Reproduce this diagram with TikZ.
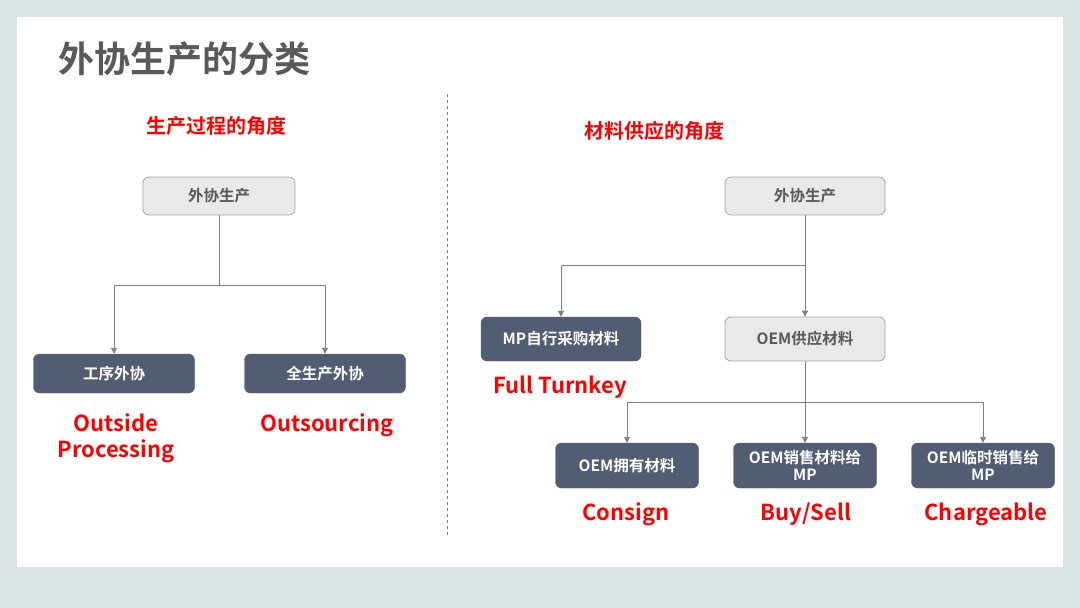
\documentclass[tikz,border=0pt]{standalone}
\usepackage{fontspec}
\setmainfont{Noto Sans CJK SC}[BoldFont={Noto Sans CJK SC Bold}]
\usepackage{xcolor}
\usetikzlibrary{positioning, arrows.meta}

\definecolor{slate}{HTML}{525C72}
\definecolor{paper}{HTML}{DCE3E5}
\definecolor{softfill}{HTML}{E9E9E9}
\definecolor{softline}{HTML}{A6A6A6}
\definecolor{inkgray}{HTML}{595959}
\definecolor{linkgray}{HTML}{7F7F7F}

\begin{document}
\begin{tikzpicture}[
  x=1pt, y=-1pt,
  font=\bfseries,
  softbox/.style={draw=softline, fill=softfill, rounded corners=6pt, line width=0.8pt,
                  minimum width=160pt, minimum height=38pt, inner sep=2pt,
                  text=inkgray, font=\fontsize{15.5}{17}\selectfont\bfseries},
  darkbox/.style={draw=slate, fill=slate, rounded corners=6pt,
                  minimum width=161pt, minimum height=39pt, inner sep=2pt, align=center,
                  text=white, font=\fontsize{15.5}{17}\selectfont\bfseries},
  heading/.style={text=red, font=\fontsize{20}{24}\selectfont\bfseries},
  tag/.style={text=red, align=center, font=\fontsize{22}{26}\selectfont\bfseries},
  link/.style={draw=linkgray, line width=0.9pt, -{Triangle[length=6pt, width=6pt]}},
]
\useasboundingbox (0,0) rectangle (1080,608);
\fill[paper] (0,0) rectangle (1080,608);
\fill[white] (17,17) rectangle (1063,567);

\node[anchor=west, text=inkgray, font=\fontsize{36}{40}\selectfont\bfseries] (title) at (55,59) {外协生产的分类};
\draw[dashed, linkgray, line width=0.8pt] (447,94) -- (447,535);

% production process view
\node[heading] (hL) at (216,126) {生产过程的角度};
\node[softbox, minimum width=152pt] (L0) at (219,196) {外协生产};
\node[darkbox] (L1) at (114,373.5) {工序外协};
\node[darkbox] (L2) at (325,373.5) {全生产外协};
\coordinate (Lj) at (219,285);
\draw[link, -] (L0.south) -- (Lj);
\draw[link] (Lj) -| (L1.north);
\draw[link] (Lj) -| (L2.north);
\node[tag] (tL1) at (116,438) {Outside\\Processing};
\node[tag] (tL2) at (327,425) {Outsourcing};

% material supply view
\node[heading] (hR) at (654,131) {材料供应的角度};
\node[softbox] (R0) at (805,196) {外协生产};
\node[darkbox, minimum width=160pt, minimum height=44pt] (R1) at (561,339) {MP自行采购材料};
\node[softbox, minimum height=44pt] (R2) at (805,339) {OEM供应材料};
\coordinate (Rj) at (805,265);
\draw[link, -] (R0.south) -- (Rj);
\draw[link] (Rj) -| (R1.north);
\draw[link] (Rj) -- (R2.north);
\node[tag] (tR1) at (560,387) {Full Turnkey};

\node[darkbox, minimum width=143pt, minimum height=45pt] (S1) at (627,465.5) {OEM拥有材料};
\node[darkbox, minimum width=143pt, minimum height=45pt] (S2) at (805,465.5) {OEM销售材料给\\MP};
\node[darkbox, minimum width=143pt, minimum height=45pt] (S3) at (983,465.5) {OEM临时销售给\\MP};
\coordinate (Sj) at (805,402);
\draw[link, -] (R2.south) -- (Sj);
\draw[link] (Sj) -| (S1.north);
\draw[link] (Sj) -- (S2.north);
\draw[link] (Sj) -| (S3.north);
\node[tag] (tS1) at (626,514) {Consign};
\node[tag] (tS2) at (806,514) {Buy/Sell};
\node[tag] (tS3) at (986,514) {Chargeable};
\end{tikzpicture}
\end{document}
